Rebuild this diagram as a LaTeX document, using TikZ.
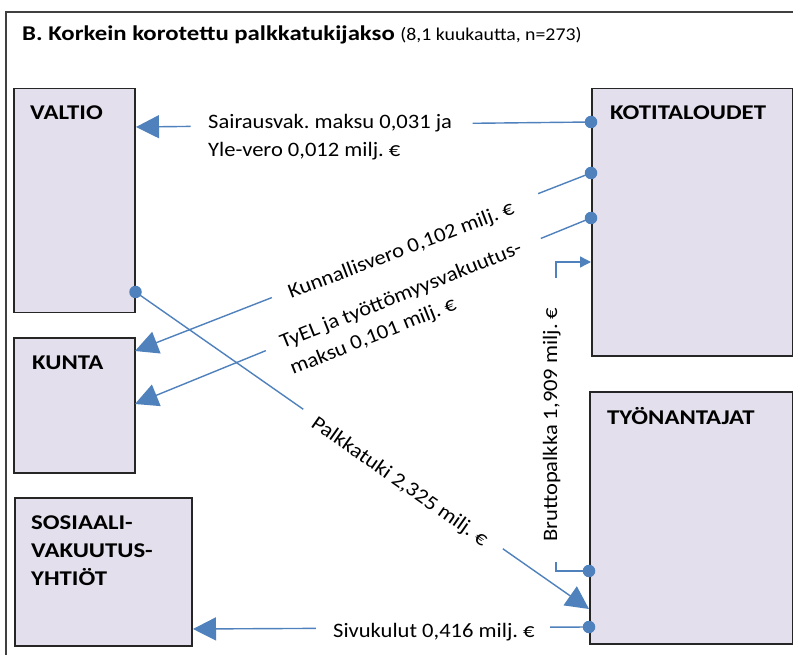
\documentclass[tikz,border=0pt]{standalone}
\usepackage{fontspec}
\setmainfont{Carlito}[FakeStretch=1.1]
\newfontfamily\labelfont{Carlito}[FakeStretch=1.18]
\usetikzlibrary{arrows.meta,calc}
\definecolor{flowblue}{HTML}{4F81BD}
\definecolor{boxfill}{HTML}{E4DFEC}
\definecolor{framegray}{HTML}{404040}
\tikzset{
  actor/.style={draw=black!85, line width=1.5pt, fill=boxfill, anchor=north west, inner sep=0pt},
  actorlabel/.style={anchor=base west, inner sep=0pt, font=\labelfont\bfseries\fontsize{21}{25}\selectfont},
  flow/.style={draw=flowblue, line width=1.4pt},
  bighead/.style={-{Triangle[length=23pt,width=23pt]}},
  smallhead/.style={-{Triangle[length=11pt,width=11pt]}},
  flowlabel/.style={anchor=base west, inner sep=0pt, font=\fontsize{20.5}{24}\selectfont},
  dot/.style={circle, fill=flowblue, inner sep=0pt, minimum size=12.5pt}
}
\frenchspacing
\begin{document}
\begin{tikzpicture}[x=1pt,y=-1pt]
\useasboundingbox (0,0) rectangle (793,655);
\fill[white] (0,0) rectangle (793,655);

% outer frame (open towards right and bottom)
\draw[framegray, line width=1.8pt] (6,655) -- (6,12) -- (793,12);

% title
\node[anchor=base west, inner sep=0pt] (title) at (22,41)
  {\labelfont\bfseries\fontsize{21}{25}\selectfont B. Korkein korotettu palkkatukijakso\ \normalfont\fontsize{18}{20}\selectfont(8,1 kuukautta, n=273)};

% actors
\node[actor, minimum width=121pt, minimum height=224pt] (valtio) at (13,88) {};
\node[actor, minimum width=121pt, minimum height=135pt] (kunta) at (13,337) {};
\node[actor, minimum width=177pt, minimum height=148pt] (sosiaali) at (14,497) {};
\node[actor, minimum width=201pt, minimum height=267pt] (kotit) at (591,88) {};
\node[actor, minimum width=203pt, minimum height=252pt] (tyon) at (589,391) {};

\node[actorlabel] (valtioL) at (30,120) {VALTIO};
\node[actorlabel] (kuntaL) at (32,369) {KUNTA};
\node[actorlabel] (sosL1) at (31,529) {SOSIAALI-};
\node[actorlabel] (sosL2) at (31,557) {VAKUUTUS-};
\node[actorlabel] (sosL3) at (31,585) {YHTIÖT};
\node[actorlabel] (kotitL) at (610,120) {KOTITALOUDET};
\node[actorlabel] (tyonL) at (607,424) {TYÖNANTAJAT};

% connector end points on the actor borders
\coordinate (kA) at (kotit.west |- 0,122);
\coordinate (kB) at (kotit.west |- 0,173);
\coordinate (kC) at (kotit.west |- 0,218);
\coordinate (kD) at (kotit.west |- 0,262);
\coordinate (vA) at (valtio.east |- 0,292);
\coordinate (tA) at (tyon.west |- 0,571);
\coordinate (tB) at (tyon.west |- 0,627);
\coordinate (vIn) at (136,127);
\coordinate (kIn1) at (135,351);
\coordinate (kIn2) at (135,404);
\coordinate (tIn) at (589,609);
\coordinate (sIn) at (193,629);
\coordinate (bend1) at (556,571);
\coordinate (bend2) at (556,262);

% Sairausvakuutusmaksu ja Yle-vero
\draw[flow] (kA) -- ($(kA)!0.26!(vIn)$);
\draw[flow, bighead] ($(kA)!0.88!(vIn)$) -- (vIn);
% Kunnallisvero
\draw[flow] (kB) -- ($(kB)!0.116!(kIn1)$);
\draw[flow, bighead] ($(kB)!0.70!(kIn1)$) -- (kIn1);
% TyEL ja tyottomyysvakuutusmaksu
\draw[flow] (kC) -- ($(kC)!0.11!(kIn2)$);
\draw[flow, bighead] ($(kC)!0.713!(kIn2)$) -- (kIn2);
% Palkkatuki
\draw[flow] (vA) -- ($(vA)!0.37!(tIn)$);
\draw[flow, bighead] ($(vA)!0.81!(tIn)$) -- (tIn);
% Sivukulut
\draw[flow] (tB) -- ($(tB)!0.098!(sIn)$);
\draw[flow, bighead] ($(tB)!0.69!(sIn)$) -- (sIn);
% Bruttopalkka
\draw[flow] (tA) -- (bend1) -- ($(bend1)+(0,-9)$);
\draw[flow, smallhead] ($(bend2)+(0,16)$) -- (bend2) -- (kD);

% connector start dots
\foreach \p in {kA,kB,kC,vA,tA,tB} \node[dot] at (\p) {};

% flow labels
\node[flowlabel] (l1a) at (208,129) {Sairausvak. maksu 0,031 ja};
\node[flowlabel] (l1b) at (208,157) {Yle-vero 0,012 milj. €};
\node[flowlabel, rotate=20.8] (l2) at (291,299) {Kunnallisvero 0,102 milj. €};
\node[flowlabel, rotate=21.8] (l3a) at (283,349) {TyEL ja työttömyysvakuutus-};
\node[flowlabel, rotate=21.8] (l3b) at (293,375) {maksu 0,101 milj. €};
\node[flowlabel, rotate=-35] (l4) at (310,426) {Palkkatuki 2,325 milj. €};
\node[flowlabel, rotate=90] (l5) at (557,542) {Bruttopalkka 1,909 milj. €};
\node[flowlabel] (l6) at (333,637) {Sivukulut 0,416 milj. €};
\end{tikzpicture}
\end{document}
